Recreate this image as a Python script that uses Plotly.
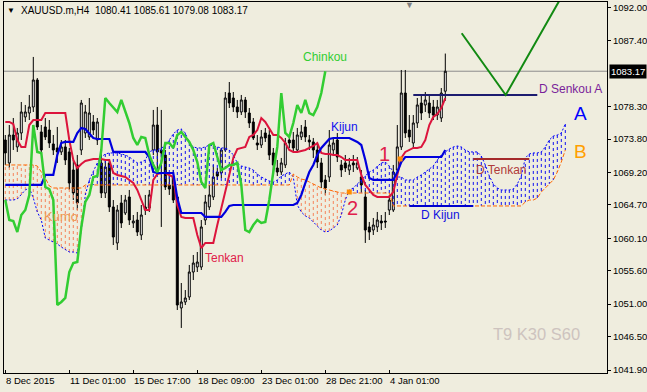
import plotly.graph_objects as go

# ---------------- data (H4 bars, index 0 = 8 Dec 2015) ----------------
bar_index = list(range(111))
opens = [1073.67, 1070.50, 1074.36, 1072.71, 1074.64, 1076.85, 1077.40, 1078.23, 1081.96, 1074.78,
         1075.47, 1075.05, 1073.12, 1072.57, 1072.02, 1072.71, 1072.02, 1069.53, 1070.22, 1072.29,
         1074.64, 1074.09, 1076.16, 1073.67, 1070.50, 1066.35, 1070.50, 1064.42, 1059.45, 1064.97,
         1063.59, 1065.80, 1062.21, 1062.62, 1060.55, 1064.42, 1064.28, 1072.29, 1075.74, 1072.29,
         1071.60, 1067.46, 1068.56, 1065.80, 1050.47, 1051.30, 1051.99, 1055.44, 1056.13, 1056.13,
         1062.62, 1064.42, 1065.80, 1069.25, 1069.11, 1072.29, 1080.16, 1079.47, 1078.23, 1077.54,
         1079.20, 1077.40, 1076.16, 1073.26, 1072.98, 1074.64, 1074.36, 1071.88, 1069.80, 1069.25,
         1070.22, 1073.67, 1073.67, 1072.29, 1074.09, 1075.47, 1073.67, 1073.40, 1072.29, 1070.50,
         1068.15, 1068.56, 1072.29, 1073.67, 1070.22, 1070.50, 1069.53, 1070.50, 1069.80, 1068.56,
         1065.80, 1061.66, 1061.24, 1061.66, 1062.48, 1062.48, 1064.00, 1064.00, 1069.53, 1072.71,
         1080.16, 1075.05, 1073.26, 1076.02, 1078.78, 1078.51, 1078.78, 1078.23, 1077.12, 1076.71,
         1080.41]
highs = [1074.36, 1075.74, 1076.71, 1075.33, 1078.92, 1078.51, 1079.89, 1085.14, 1082.23, 1075.74,
         1076.71, 1076.43, 1074.36, 1075.47, 1073.67, 1073.67, 1072.57, 1070.91, 1071.60, 1079.20,
         1078.51, 1079.47, 1077.12, 1076.71, 1072.29, 1070.91, 1070.91, 1065.38, 1064.69, 1066.08,
         1066.08, 1066.77, 1063.31, 1063.73, 1064.69, 1066.08, 1066.77, 1077.82, 1078.23, 1077.82,
         1072.29, 1068.84, 1069.53, 1066.08, 1053.92, 1052.95, 1056.41, 1057.79, 1058.20, 1062.62,
         1066.08, 1067.46, 1070.22, 1069.80, 1072.57, 1080.30, 1081.68, 1080.30, 1079.20, 1079.89,
         1079.61, 1078.09, 1076.71, 1074.36, 1075.05, 1075.33, 1075.05, 1072.57, 1070.91, 1071.19,
         1073.95, 1074.36, 1074.78, 1075.33, 1075.74, 1076.43, 1074.36, 1073.95, 1072.98, 1071.19,
         1068.84, 1075.05, 1073.95, 1074.64, 1070.91, 1071.60, 1071.19, 1071.60, 1071.32, 1069.53,
         1066.77, 1062.35, 1062.90, 1063.73, 1063.31, 1063.73, 1066.08, 1070.22, 1075.74, 1083.34,
         1083.34, 1077.12, 1077.12, 1079.47, 1079.89, 1080.30, 1079.89, 1079.20, 1079.20, 1080.85,
         1085.61]
lows = [1070.22, 1069.80, 1072.29, 1072.02, 1073.67, 1076.16, 1076.43, 1077.54, 1075.05, 1071.60,
        1073.67, 1072.57, 1071.60, 1070.50, 1071.60, 1070.22, 1066.77, 1065.38, 1064.00, 1071.60,
        1073.95, 1073.67, 1074.36, 1072.98, 1065.66, 1065.66, 1063.73, 1059.17, 1058.48, 1061.52,
        1063.31, 1061.93, 1061.52, 1060.41, 1059.86, 1063.31, 1063.73, 1071.60, 1068.84, 1061.66,
        1066.77, 1066.08, 1064.97, 1050.19, 1047.71, 1050.88, 1051.57, 1054.33, 1055.44, 1055.72,
        1061.93, 1064.00, 1065.38, 1068.15, 1068.42, 1072.02, 1078.09, 1077.54, 1076.71, 1077.12,
        1076.71, 1075.33, 1073.67, 1072.29, 1072.57, 1073.40, 1070.91, 1069.25, 1068.70, 1068.84,
        1069.80, 1072.57, 1072.02, 1072.02, 1073.67, 1073.40, 1072.29, 1071.19, 1069.80, 1067.04,
        1066.08, 1067.87, 1071.60, 1070.63, 1068.56, 1069.25, 1068.84, 1069.25, 1069.53, 1066.49,
        1059.45, 1059.86, 1060.55, 1060.96, 1061.24, 1061.52, 1063.31, 1063.73, 1069.25, 1072.29,
        1073.95, 1073.40, 1072.57, 1075.33, 1076.43, 1077.54, 1076.71, 1076.43, 1076.43, 1076.16,
        1079.08]
closes = [1071.88, 1074.36, 1073.67, 1074.64, 1077.54, 1077.54, 1078.23, 1081.96, 1075.47, 1072.29,
          1074.09, 1073.26, 1072.29, 1072.02, 1072.71, 1070.91, 1067.73, 1066.35, 1064.97, 1078.78,
          1077.54, 1077.40, 1075.05, 1076.16, 1066.35, 1069.94, 1064.42, 1060.27, 1064.00, 1062.21,
          1065.38, 1062.62, 1062.48, 1060.96, 1063.31, 1064.00, 1066.08, 1075.74, 1072.02, 1071.88,
          1067.18, 1066.90, 1065.38, 1050.88, 1051.30, 1051.85, 1055.44, 1056.68, 1056.82, 1061.66,
          1065.11, 1066.08, 1068.56, 1068.70, 1072.29, 1079.47, 1078.78, 1078.23, 1077.54, 1079.20,
          1077.54, 1076.02, 1073.95, 1072.98, 1074.09, 1073.95, 1071.60, 1070.22, 1069.25, 1070.50,
          1073.26, 1073.26, 1072.57, 1074.36, 1074.78, 1074.09, 1073.40, 1072.29, 1070.63, 1067.87,
          1067.04, 1072.98, 1073.26, 1071.32, 1069.53, 1069.80, 1070.22, 1070.22, 1070.50, 1067.46,
          1061.24, 1060.96, 1061.93, 1062.62, 1062.21, 1062.35, 1065.38, 1069.25, 1072.71, 1080.16,
          1074.64, 1074.09, 1076.02, 1078.51, 1077.40, 1079.20, 1077.40, 1077.12, 1078.23, 1080.16,
          1083.17]
tenkan = [1076.16, 1076.16, 1075.88, 1073.67, 1072.71, 1072.71, 1075.74, 1076.43, 1076.43, 1076.43,
          1077.40, 1077.40, 1077.40, 1077.40, 1077.40, 1077.40, 1073.67, 1070.91, 1069.80, 1070.36,
          1070.77, 1070.91, 1071.05, 1071.05, 1071.05, 1070.91, 1070.91, 1069.11, 1068.84, 1068.70,
          1068.56, 1068.15, 1067.73, 1066.77, 1065.38, 1064.00, 1064.00, 1068.15, 1068.97, 1069.11,
          1069.11, 1068.84, 1068.56, 1064.69, 1063.04, 1062.90, 1062.90, 1062.90, 1060.55, 1058.75,
          1059.45, 1059.45, 1059.45, 1061.93, 1064.28, 1066.35, 1068.84, 1071.19, 1072.43, 1072.57,
          1072.71, 1074.09, 1074.36, 1075.05, 1076.71, 1076.16, 1075.33, 1074.36, 1074.36, 1073.95,
          1073.26, 1072.29, 1072.02, 1072.02, 1072.15, 1072.29, 1072.57, 1072.84, 1073.26, 1071.88,
          1071.74, 1071.74, 1071.60, 1071.60, 1071.32, 1070.91, 1070.91, 1070.91, 1070.91, 1068.84,
          1067.46, 1066.77, 1066.08, 1065.80, 1065.80, 1065.80, 1065.80, 1066.49, 1068.84, 1071.19,
          1072.02, 1072.29, 1072.57, 1072.57, 1072.71, 1073.67, 1075.74, 1076.85, 1077.26, 1078.09,
          1079.47]
kijun = [1067.46, 1067.46, 1067.46, 1067.46, 1067.46, 1067.46, 1067.46, 1067.46, 1067.46, 1067.46,
         1068.84, 1068.84, 1068.84, 1071.60, 1073.26, 1073.40, 1073.40, 1073.40, 1074.64, 1075.33,
         1075.19, 1074.64, 1073.95, 1073.81, 1073.81, 1073.81, 1073.81, 1072.02, 1072.02, 1072.02,
         1072.02, 1072.02, 1072.02, 1072.02, 1072.02, 1072.02, 1071.32, 1069.25, 1069.11, 1069.11,
         1069.11, 1069.11, 1069.11, 1065.66, 1063.59, 1063.59, 1063.59, 1063.59, 1063.59, 1063.59,
         1063.04, 1063.04, 1063.04, 1063.04, 1063.04, 1063.73, 1064.56, 1064.69, 1064.69, 1064.69,
         1064.69, 1064.69, 1064.69, 1064.69, 1064.69, 1064.69, 1064.69, 1064.69, 1064.69, 1064.69,
         1064.69, 1064.69, 1064.69, 1064.97, 1066.08, 1067.73, 1069.25, 1070.22, 1071.60, 1072.57,
         1073.26, 1073.81, 1073.95, 1073.95, 1073.95, 1073.95, 1073.95, 1073.67, 1073.40, 1072.98,
         1070.91, 1068.42, 1068.15, 1068.15, 1068.15, 1068.15, 1068.15, 1068.15, 1069.25, 1070.63,
         1071.32, 1071.32, 1071.32, 1071.32, 1071.32, 1071.32, 1071.32, 1071.32, 1071.32, 1071.32,
         1072.29]
# cloud, already displaced 30 bars forward (index 0..140)
senkou_a = [1065.38, 1065.38, 1065.38, 1065.52, 1066.08, 1066.77, 1067.04, 1065.66, 1063.73, 1062.62,
            1060.13, 1059.86, 1059.58, 1059.31, 1058.89, 1058.48, 1058.20, 1058.20, 1058.06, 1061.24,
            1066.08, 1068.15, 1069.25, 1070.50, 1071.32, 1071.74, 1071.88, 1071.88, 1071.88, 1071.74,
            1071.60, 1071.32, 1070.91, 1070.50, 1070.63, 1070.91, 1072.02, 1072.29, 1072.29, 1072.57,
            1072.84, 1073.67, 1074.50, 1075.05, 1075.19, 1074.64, 1073.26, 1072.71, 1072.57, 1072.57,
            1072.71, 1072.98, 1072.84, 1072.71, 1072.57, 1072.57, 1072.29, 1071.60, 1070.50, 1070.08,
            1069.94, 1069.80, 1069.53, 1068.97, 1068.56, 1068.28, 1068.01, 1067.87, 1068.15, 1068.70,
            1068.97, 1069.25, 1068.56, 1064.69, 1063.73, 1063.18, 1062.90, 1062.35, 1061.79, 1061.24,
            1060.96, 1061.10, 1061.52, 1061.93, 1063.31, 1065.38, 1066.77, 1067.04, 1067.59, 1068.15,
            1068.70, 1069.25, 1069.53, 1070.08, 1070.50, 1070.63, 1070.08, 1069.25, 1068.56, 1068.56,
            1068.15, 1068.15, 1068.15, 1068.56, 1068.84, 1069.25, 1069.67, 1070.08, 1070.91, 1071.60,
            1072.02, 1072.43, 1072.71, 1072.84, 1072.71, 1072.29, 1072.02, 1072.02, 1072.02, 1071.46,
            1070.22, 1068.70, 1067.59, 1067.04, 1066.77, 1066.77, 1066.77, 1066.90, 1067.59, 1068.70,
            1071.19, 1071.74, 1071.88, 1071.88, 1072.02, 1072.71, 1073.67, 1074.22, 1074.36, 1074.64,
            1075.88]
senkou_b = [1070.22, 1070.22, 1070.22, 1070.22, 1070.22, 1070.22, 1070.22, 1070.22, 1070.08, 1069.25,
            1068.42, 1067.32, 1067.04, 1067.04, 1067.04, 1067.04, 1067.04, 1067.04, 1067.04, 1067.04,
            1067.46, 1067.46, 1067.46, 1067.46, 1067.46, 1067.46, 1067.46, 1067.46, 1067.46, 1067.46,
            1067.46, 1067.46, 1067.46, 1067.46, 1067.46, 1067.46, 1067.46, 1067.46, 1067.46, 1067.46,
            1067.46, 1067.46, 1067.46, 1067.46, 1067.46, 1067.46, 1067.46, 1067.46, 1067.46, 1067.46,
            1067.46, 1067.46, 1067.46, 1067.46, 1067.46, 1067.46, 1067.46, 1067.46, 1067.46, 1067.46,
            1067.46, 1067.46, 1067.46, 1067.46, 1067.46, 1067.46, 1067.46, 1067.46, 1067.46, 1067.46,
            1067.46, 1067.46, 1068.97, 1068.56, 1068.28, 1068.15, 1067.87, 1067.59, 1067.32, 1067.04,
            1066.90, 1066.77, 1066.63, 1066.49, 1066.35, 1066.35, 1066.35, 1066.35, 1066.35, 1066.35,
            1066.35, 1066.35, 1066.35, 1066.35, 1066.35, 1066.35, 1066.35, 1064.56, 1064.56, 1064.56,
            1064.56, 1064.56, 1064.56, 1064.56, 1064.56, 1064.56, 1064.56, 1064.56, 1064.56, 1064.56,
            1064.56, 1064.56, 1064.56, 1064.56, 1064.56, 1064.56, 1064.56, 1064.56, 1064.56, 1064.56,
            1064.56, 1064.56, 1064.56, 1064.56, 1064.56, 1064.56, 1064.56, 1064.56, 1064.56, 1064.56,
            1065.11, 1065.38, 1065.38, 1065.66, 1066.49, 1067.04, 1067.59, 1068.15, 1069.25, 1070.63,
            1072.29]
chinkou_shift = 30

# daily levels (price, first bar, last bar)
d_senkou_a = (1079.89, 102, 133)
d_tenkan = (1071.05, 117, 131)
d_kijun = (1064.55, 101, 117)
# hand-drawn V (bar, price)
v_bars = [114.1, 125.1, 138.6]
v_prices = [1088.41, 1079.89, 1093.0]
cross_bars = [98.7, 86.0]
cross_prices = [1071.05, 1066.49]

tick_index = [0, 16, 32, 48, 64, 80, 96]
tick_labels = ["8 Dec 2015", "11 Dec 01:00", "15 Dec 17:00", "18 Dec 09:00",
               "23 Dec 01:00", "28 Dec 21:00", "4 Jan 01:00"]
price_ticks = [1092.00, 1087.40, 1078.30, 1073.80, 1069.20, 1064.70,
               1060.10, 1055.60, 1051.00, 1046.50, 1041.90]
last_price = 1083.17
header = "XAUUSD.m,H4\u00a0\u00a01080.41 1085.61 1079.08 1083.17"

# ---------------- figure ----------------
BG = "#EFEDDE"
FONT = "Liberation Sans"
W, H = 647, 392
ML, MR, MT, MB = 4, 40, 2, 19
PW, PH = W - ML - MR, H - MT - MB


def px(xp):
    return (xp - ML) / PW


def py(yp):
    return (H - MB - yp) / PH


fig = go.Figure()

# cloud hatch (vertical dotted strokes between Senkou A and B)
hb_x, hb_y, ho_x, ho_y = [], [], [], []
for i, (a, b) in enumerate(zip(senkou_a, senkou_b)):
    if a >= b:
        hb_x += [i, i, None]
        hb_y += [a, b, None]
    else:
        ho_x += [i, i, None]
        ho_y += [a, b, None]
cloud_x = list(range(len(senkou_a)))
fig.add_trace(go.Scatter(x=hb_x, y=hb_y, mode="lines", hoverinfo="skip",
                         line=dict(color="#1010F0", width=1, dash="3px,3px")))
fig.add_trace(go.Scatter(x=ho_x, y=ho_y, mode="lines", hoverinfo="skip",
                         line=dict(color="#F5845A", width=1, dash="3px,3px")))
fig.add_trace(go.Scatter(x=cloud_x, y=senkou_a, mode="lines", hoverinfo="skip",
                         line=dict(color="#0000FF", width=1, dash="2px,2px")))
fig.add_trace(go.Scatter(x=cloud_x, y=senkou_b, mode="lines", hoverinfo="skip",
                         line=dict(color="#FF6600", width=1, dash="4px,2px")))

# candles
fig.add_trace(go.Candlestick(
    x=bar_index, open=opens, high=highs, low=lows, close=closes,
    increasing=dict(line=dict(color="black", width=1), fillcolor="white"),
    decreasing=dict(line=dict(color="black", width=1), fillcolor="black"),
    whiskerwidth=0, hoverinfo="skip"))

# ichimoku lines
fig.add_trace(go.Scatter(x=bar_index, y=tenkan, mode="lines", hoverinfo="skip",
                         line=dict(color="#DC143C", width=2)))
fig.add_trace(go.Scatter(x=bar_index, y=kijun, mode="lines", hoverinfo="skip",
                         line=dict(color="#0000DD", width=2.2)))
fig.add_trace(go.Scatter(x=[i - chinkou_shift for i in bar_index[chinkou_shift:]],
                         y=closes[chinkou_shift:], mode="lines", hoverinfo="skip",
                         line=dict(color="#32CD32", width=2.5)))

# daily levels
for (lvl, a, b), col in [(d_senkou_a, "#1C1C70"), (d_tenkan, "#A52A2A"), (d_kijun, "#0000CD")]:
    fig.add_trace(go.Scatter(x=[a, b], y=[lvl, lvl], mode="lines", hoverinfo="skip",
                             line=dict(color=col, width=2)))

fig.add_trace(go.Scatter(x=v_bars, y=v_prices, mode="lines", hoverinfo="skip",
                         line=dict(color="#128A12", width=2)))
fig.add_trace(go.Scatter(x=cross_bars, y=cross_prices, mode="markers", hoverinfo="skip",
                         marker=dict(color="#FF8C00", symbol="square", size=5, line=dict(width=0))))

# current price line
fig.add_shape(type="line", xref="paper", x0=0, x1=1, yref="y", y0=last_price, y1=last_price,
              line=dict(color="#8C8C8C", width=1), layer="below")

ann = []


def label(text, x, y, color, size, xref="x", yref="y", xanchor="center", **kw):
    ann.append(dict(text=text, x=x, y=y, xref=xref, yref=yref, showarrow=False,
                    xanchor=xanchor, yanchor="middle",
                    font=dict(family=FONT, size=size, color=color), **kw))


label("Chinkou", 79.9, 1085.14, "#32CD32", 12)
label("Kijun", 84.9, 1075.47, "#1010F0", 12)
label("Tenkan", 54.9, 1057.38, "#E0204A", 12)
label("Kumo", 13.9, 1063.17, "#EE9955", 13)
label("1", 94.9, 1071.7, "#E0204A", 20)
label("2", 86.7, 1064.28, "#E0204A", 20)
label("A", 143.9, 1077.40, "#0000FF", 19)
label("B", 143.9, 1072.15, "#FFA000", 19)
label("D Senkou A", 141.2, 1080.7, "#7A1F9A", 12)
label("D Tenkan", 123.9, 1069.53, "#B03A3A", 12)
label("D Kijun", 108.9, 1063.31, "#1010E0", 12)
label("T9 K30 S60", 132.9, 1046.88, "#CDC3BE", 16.5)

label("\u25BC", px(11), py(11), "black", 8, xref="paper", yref="paper")
label(header, px(19), py(11), "black", 10, xref="paper", yref="paper", xanchor="left")
label("\u25BC", px(409), py(5), "#808080", 9, xref="paper", yref="paper")

for ti, tl in zip(tick_index, tick_labels):
    label(tl, ti, py(380), "black", 9.5, yref="paper", xanchor="left", xshift=-1.5)

ann.append(dict(text=f"{last_price:.2f}", x=1, xref="paper", y=last_price, yref="y",
                xanchor="left", yanchor="middle", xshift=2, showarrow=False,
                bgcolor="black", borderpad=1,
                font=dict(family=FONT, size=9.5, color="white")))

fig.update_layout(
    width=W, height=H, margin=dict(l=ML, r=MR, t=MT, b=MB, pad=0),
    paper_bgcolor=BG, plot_bgcolor=BG, showlegend=False,
    annotations=ann,
    xaxis=dict(range=[-0.325, 150.425], showgrid=False, zeroline=False,
               showline=True, mirror=True, linecolor="black", linewidth=1,
               tickvals=tick_index, ticks="inside", ticklen=3, tickcolor="black",
               showticklabels=False, rangeslider=dict(visible=False), automargin=False,
               fixedrange=True),
    yaxis=dict(range=[1041.49, 1092.73], side="right", showgrid=False, zeroline=False,
               showline=True, mirror=True, linecolor="black", linewidth=1,
               tickvals=price_ticks, ticktext=[f"{v:.2f}" for v in price_ticks],
               ticks="outside", ticklen=3, tickcolor="black", automargin=False,
               tickfont=dict(family=FONT, size=9.5, color="black"), fixedrange=True),
)

fig.write_html("out.html")
